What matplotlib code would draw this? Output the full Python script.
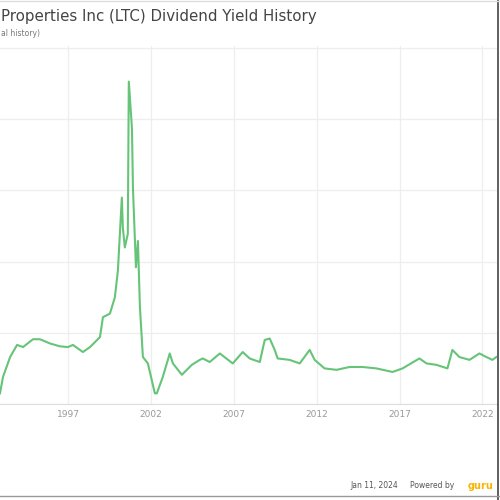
import matplotlib
matplotlib.use("Agg")
import matplotlib.pyplot as plt
from matplotlib.lines import Line2D

years = [1992.90, 1993.08, 1993.51, 1993.93, 1994.29, 1994.89, 1995.31, 1995.92, 1996.52,
         1997.00, 1997.30, 1997.90, 1998.33, 1998.93, 1999.11, 1999.53, 1999.83, 2000.01,
         2000.25, 2000.31, 2000.43, 2000.61, 2000.67, 2000.86, 2000.92, 2001.10, 2001.22,
         2001.34, 2001.52, 2001.82, 2002.24, 2002.36, 2002.72, 2003.14, 2003.33, 2003.87,
         2004.47, 2004.95, 2005.13, 2005.55, 2006.16, 2006.94, 2007.54, 2007.96, 2008.57,
         2008.87, 2009.17, 2009.47, 2009.65, 2010.37, 2010.98, 2011.58, 2011.88, 2012.48,
         2013.20, 2013.99, 2014.77, 2015.61, 2016.58, 2017.18, 2018.20, 2018.63, 2019.23,
         2019.89, 2020.19, 2020.61, 2021.22, 2021.82, 2022.24, 2022.60, 2022.84]
yield_pct = [1.5, 3.8, 6.6, 8.3, 8.0, 9.1, 9.1, 8.5, 8.1,
             8.0, 8.3, 7.3, 8.0, 9.4, 12.2, 12.7, 15.0, 18.7,
             29.0, 24.8, 22.0, 23.9, 45.3, 38.7, 30.3, 19.2, 22.9,
             13.6, 6.6, 5.7, 1.5, 1.5, 3.8, 7.1, 5.7, 4.1,
             5.5, 6.2, 6.4, 5.9, 7.1, 5.7, 7.3, 6.4, 5.9,
             9.0, 9.2, 7.6, 6.4, 6.2, 5.7, 7.6, 6.2, 5.0,
             4.8, 5.2, 5.2, 5.0, 4.5, 5.0, 6.4, 5.7, 5.5,
             5.0, 7.6, 6.6, 6.2, 7.1, 6.6, 6.2, 6.6]
tick_years = [1997, 2002, 2007, 2012, 2017, 2022]
tick_labels = ["1997", "2002", "2007", "2012", "2017", "2022"]
y_grid = [0, 10, 20, 30, 40, 50]

fig = plt.figure(figsize=(5, 5), dpi=100)
ax = fig.add_axes([0.0, 0.192, 0.994, 0.716])
ax.plot(years, yield_pct, color="#66c478", linewidth=1.5, solid_joinstyle="round")
ax.set_xlim(1992.9, 2022.88)
ax.set_ylim(0, 50.3)
ax.set_xticks(tick_years)
ax.set_xticklabels(tick_labels)
ax.set_yticks(y_grid)
ax.set_yticklabels([])
ax.tick_params(axis="y", length=0)
ax.tick_params(axis="x", length=0, labelsize=6.5, labelcolor="#999999", pad=4)
ax.grid(True, color="#eeeeee", linewidth=0.9)
ax.set_axisbelow(True)
for s in ["top", "right", "left"]:
    ax.spines[s].set_visible(False)
ax.spines["bottom"].set_color("#dddddd")

fig.text(0.002, 0.968, "Properties Inc (LTC) Dividend Yield History", fontsize=10.8,
         color="#444444", ha="left", va="center")
fig.text(0.002, 0.934, "al history)", fontsize=5.5, color="#777777", ha="left", va="center")
fig.text(0.796, 0.028, "Jan 11, 2024", fontsize=5.5, color="#555555", ha="right", va="center")
fig.text(0.82, 0.028, "Powered by", fontsize=5.5, color="#555555", ha="left", va="center")
fig.text(0.935, 0.028, "guru", fontsize=7, color="#f7b500", fontweight="bold",
         ha="left", va="center")

fig.add_artist(Line2D([0.995, 0.995], [0.0, 1.0], color="#444444", linewidth=1.2,
                      transform=fig.transFigure))
fig.add_artist(Line2D([0.0, 1.0], [0.999, 0.999], color="#dddddd", linewidth=1.0,
                      transform=fig.transFigure))
fig.add_artist(Line2D([0.0, 1.0], [0.008, 0.008], color="#999999", linewidth=1.0,
                      transform=fig.transFigure))

fig.savefig("out.png", dpi=100, facecolor="white")
